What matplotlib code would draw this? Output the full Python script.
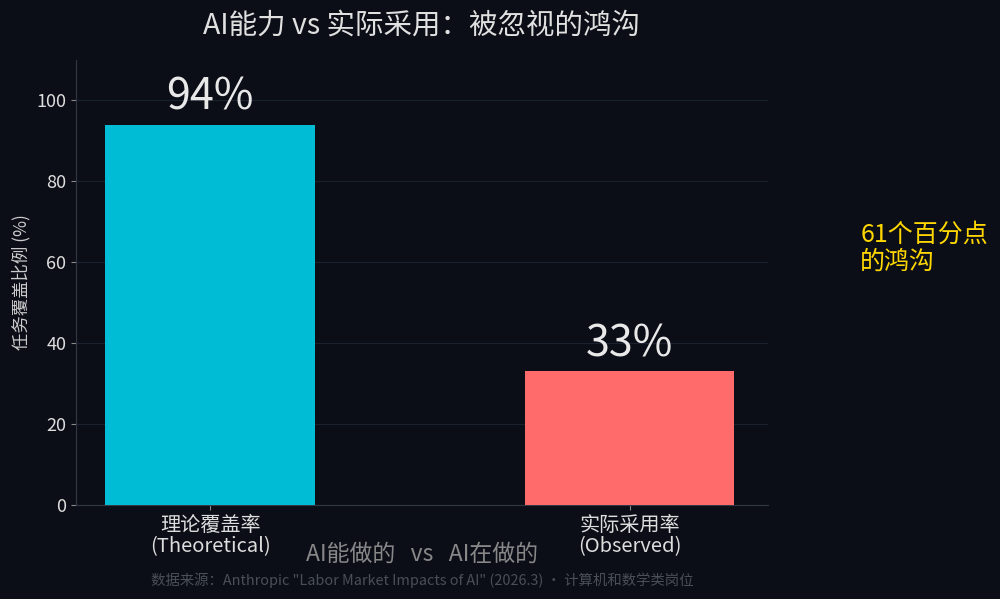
import matplotlib
matplotlib.use("Agg")
import matplotlib.pyplot as plt

plt.rcParams['font.family'] = ['Noto Sans CJK SC', 'DejaVu Sans']

# data
categories = ['理论覆盖率\n(Theoretical)', '实际采用率\n(Observed)']
values = [94, 33]
bar_colors = ['#00BCD4', '#FF6B6B']
value_labels = ['94%', '33%']
gap_label = '61个百分点\n的鸿沟'

bg = '#0B0E17'

fig = plt.figure(figsize=(10, 5.99), dpi=100, facecolor=bg)
ax = fig.add_axes([0.076, 0.157, 0.692, 0.743], facecolor=bg)

x = range(len(categories))
ax.bar(x, values, width=0.5, color=bar_colors, zorder=3)

for xi, v, lab in zip(x, values, value_labels):
    ax.text(xi, v + 1.2, lab, ha='center', va='bottom', fontsize=31, color='#E8E8E8')

ax.text(1.55, 63.5, gap_label, ha='left', va='center', fontsize=18,
        color='#FFD700', clip_on=False, linespacing=1.05)

ax.set_xlim(-0.32, 1.33)
ax.set_ylim(0, 110)
ax.set_xticks(list(x))
ax.set_xticklabels(categories, fontsize=14.5, color='#DDDDDD', linespacing=1.0)
ax.set_yticks([0, 20, 40, 60, 80, 100])
ax.tick_params(axis='y', labelsize=13, colors='#DDDDDD')
ax.tick_params(axis='x', colors='#DDDDDD')
ax.tick_params(color='#888888')

ax.set_ylabel('任务覆盖比例 (%)', fontsize=12.5, color='#CCCCCC')
ax.set_xlabel('AI能做的   vs   AI在做的', fontsize=16.5, color='#888888', labelpad=-10)
ax.set_title('AI能力 vs 实际采用：被忽视的鸿沟', fontsize=20.5, color='#E0E0E0', pad=19)

ax.grid(axis='y', color='#1C2130', linewidth=0.8, zorder=0)
for side in ['top', 'right']:
    ax.spines[side].set_visible(False)
for side in ['left', 'bottom']:
    ax.spines[side].set_color('#333845')

fig.text(0.422, 0.031, '数据来源：Anthropic "Labor Market Impacts of AI" (2026.3) · 计算机和数学类岗位',
         ha='center', va='center', fontsize=10.4, color='#4A4E58')

fig.savefig('out.png', dpi=100, facecolor=bg)
